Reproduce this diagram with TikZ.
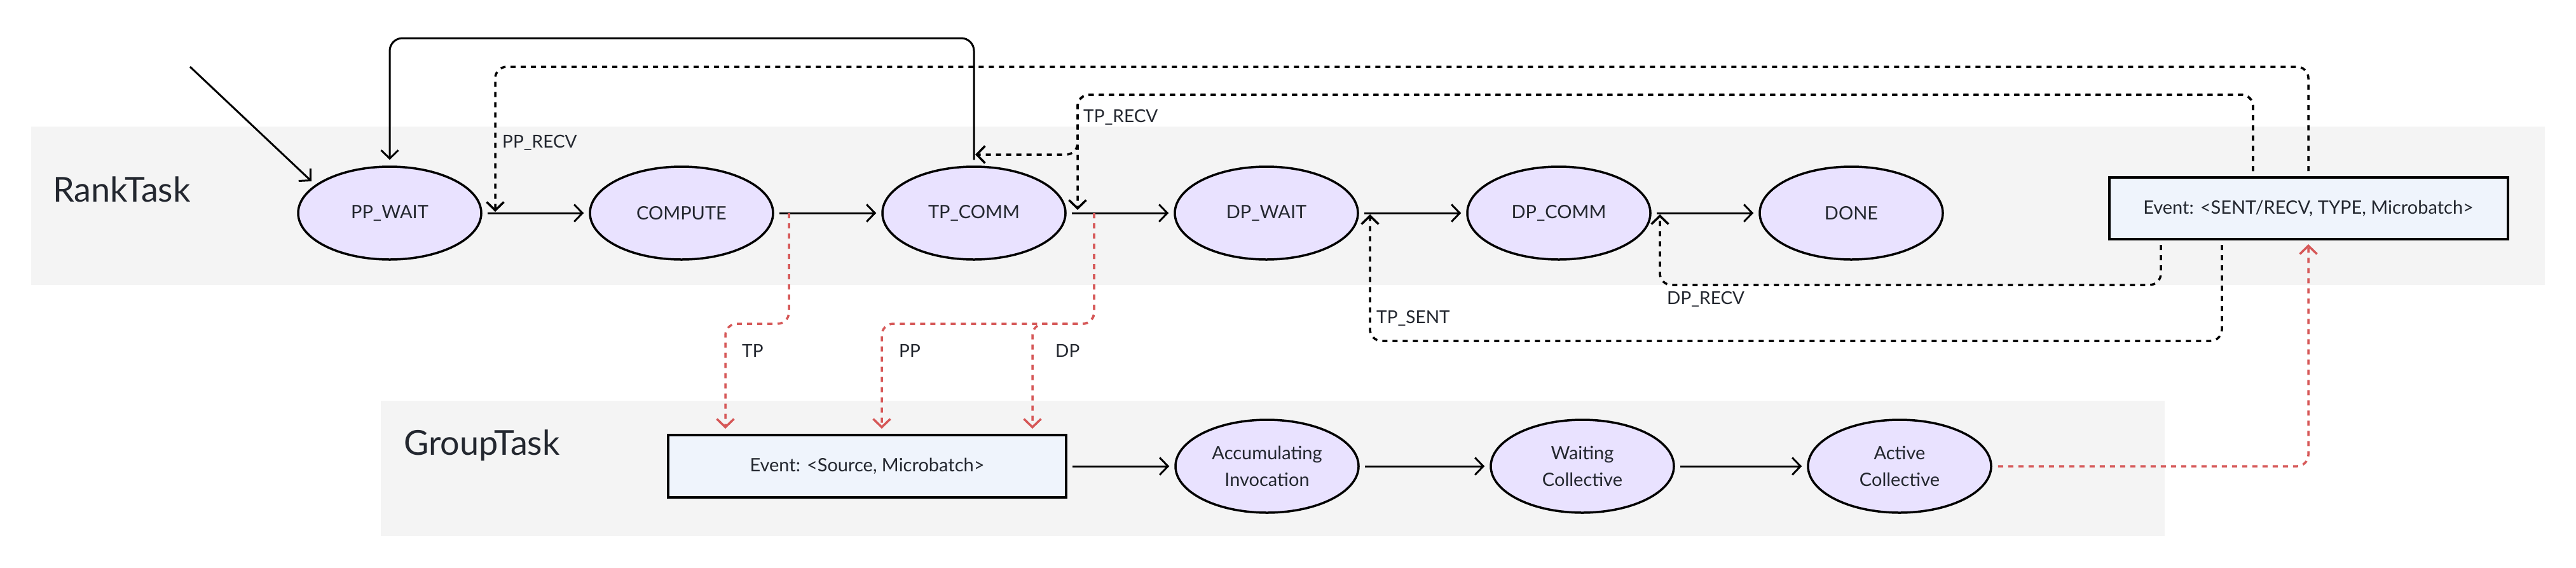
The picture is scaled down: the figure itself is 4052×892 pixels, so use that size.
\documentclass[tikz,border=0pt]{standalone}
\usepackage{fontspec}
\setmainfont{Lato}
\usetikzlibrary{shapes.geometric,arrows.meta}
\definecolor{bandc}{RGB}{244,244,244}
\definecolor{stfill}{RGB}{233,226,255}
\definecolor{evfill}{RGB}{239,244,252}
\definecolor{txtc}{RGB}{35,39,47}
\definecolor{redl}{RGB}{214,88,88}
\begin{document}
\begin{tikzpicture}[x=1pt,y=-1pt,
  statenode/.style={ellipse, draw=black, line width=3.5pt, fill=stfill,
    minimum width=288pt, minimum height=146pt, inner sep=0pt, text=txtc,
    font=\fontsize{29}{42}\selectfont, align=center},
  evbox/.style={rectangle, draw=black, line width=4pt, fill=evfill,
    inner sep=0pt, text=txtc, font=\fontsize{29}{36}\selectfont},
  tip/.style={-{Straight Barb[length=13pt,width=27pt]}},
  arr/.style={line width=3pt, tip},
  dsh/.style={line width=3.5pt, dash pattern=on 8pt off 8pt, rounded corners=18pt, tip},
  rdsh/.style={dsh, draw=redl},
  lbl/.style={anchor=base west, inner sep=0pt, text=txtc, font=\fontsize{28}{34}\selectfont},
  grouplbl/.style={anchor=base west, inner sep=0pt, text=txtc, font=\fontsize{54}{60}\selectfont}
]
\useasboundingbox (0,0) rectangle (4052,892);
\fill[white] (0,0) rectangle (4052,892);
% bands
\fill[bandc] (49,199) rectangle (4003,448);
\fill[bandc] (599,630) rectangle (3405,843);
\node[grouplbl] (rlab) at (83,317) {RankTask};
\node[grouplbl] (glab) at (635,715) {GroupTask};

% RankTask states
\node[statenode] (PPW) at (613,335) {PP\_WAIT};
\node[statenode] (COMP) at (1072,335) {COMPUTE};
\node[statenode] (TPC) at (1532,335) {TP\_COMM};
\node[statenode] (DPW) at (1992,335) {DP\_WAIT};
\node[statenode] (DPC) at (2452,335) {DP\_COMM};
\node[statenode] (DONE) at (2912,335) {DONE};
\node[evbox, minimum width=627pt, minimum height=97pt] (EvR) at (3631,327.5) {Event: <SENT/RECV, TYPE, Microbatch>};

% GroupTask states
\node[evbox, minimum width=626pt, minimum height=98pt] (EvG) at (1364,733) {Event: <Source, Microbatch>};
\node[statenode] (ACC) at (1993,733) {Accumulating\\Invocation};
\node[statenode] (WAIT) at (2489,733) {Waiting\\Collective};
\node[statenode] (ACT) at (2988,733) {Active\\Collective};

% helper coordinates
\coordinate (init) at (299,105);
\coordinate (initE) at (490,285);
\coordinate (ppIn) at (779,333);
\coordinate (tpIn) at (1695,330);
\coordinate (tpIn2) at (1534,243);
\coordinate (tsIn) at (2155,337);
\coordinate (dpIn) at (2611,337);
\coordinate (redA) at (1241,335);
\coordinate (redB) at (1721,335);

% main flow
\draw[arr] (init) -- (initE);
\draw[arr, shorten <=8pt, shorten >=8pt] (PPW.east) -- (COMP.west);
\draw[arr, shorten <=8pt, shorten >=8pt] (COMP.east) -- (TPC.west);
\draw[arr, shorten <=8pt, shorten >=8pt] (TPC.east) -- (DPW.west);
\draw[arr, shorten <=8pt, shorten >=8pt] (DPW.east) -- (DPC.west);
\draw[arr, shorten <=8pt, shorten >=8pt] (DPC.east) -- (DONE.west);
\draw[arr, shorten <=8pt, shorten >=8pt] (EvG.east) -- (ACC.west);
\draw[arr, shorten <=8pt, shorten >=8pt] (ACC.east) -- (WAIT.west);
\draw[arr, shorten <=8pt, shorten >=8pt] (WAIT.east) -- (ACT.west);

% loop TP_COMM -> PP_WAIT
\draw[arr, rounded corners=20pt, shorten <=9pt, shorten >=9pt] (TPC.north) -- (1532,60) -- (613,60) -- (PPW.north);

% dashed black feedback
\draw[dsh, shorten <=8pt] (EvR.north) -- (3631,105) -- (779,105) -- (ppIn);
\draw[dsh, shorten <=8pt] ([xshift=-87pt]EvR.north) -- (3544,149) -- (1695,149) -- (tpIn);
\draw[dsh, shorten <=8pt] ([xshift=-87pt]EvR.north) -- (3544,149) -- (1695,149) -- (1695,243) -- (tpIn2);
\draw[dsh, shorten <=7pt] ([xshift=-232pt]EvR.south) -- (3399,448) -- (2611,448) -- (dpIn);
\draw[dsh, shorten <=7pt] ([xshift=-136pt]EvR.south) -- (3495,536) -- (2155,536) -- (tsIn);

% red dashed
\draw[rdsh, shorten >=8pt] (redA) -- (1241,509) -- (1141,509) -- ([xshift=-223pt]EvG.north);
\draw[rdsh, shorten >=8pt] (redB) -- (1721,509) -- (1387,509) -- ([xshift=23pt]EvG.north);
\draw[rdsh, shorten >=8pt] (redB) -- (1721,509) -- (1624,509) -- ([xshift=260pt]EvG.north);
\draw[rdsh, shorten <=9pt, shorten >=6pt] (ACT.east) -- (3631,733) -- (EvR.south);

% edge labels
\node[lbl] (lPPR) at (790,232) {PP\_RECV};
\node[lbl] (lTPR) at (1704,192) {TP\_RECV};
\node[lbl] (lDPR) at (2622,478) {DP\_RECV};
\node[lbl] (lTPS) at (2165,508) {TP\_SENT};
\node[lbl] (lTP) at (1167,561) {TP};
\node[lbl] (lPP) at (1414,561) {PP};
\node[lbl] (lDP) at (1660,561) {DP};
\end{tikzpicture}
\end{document}
